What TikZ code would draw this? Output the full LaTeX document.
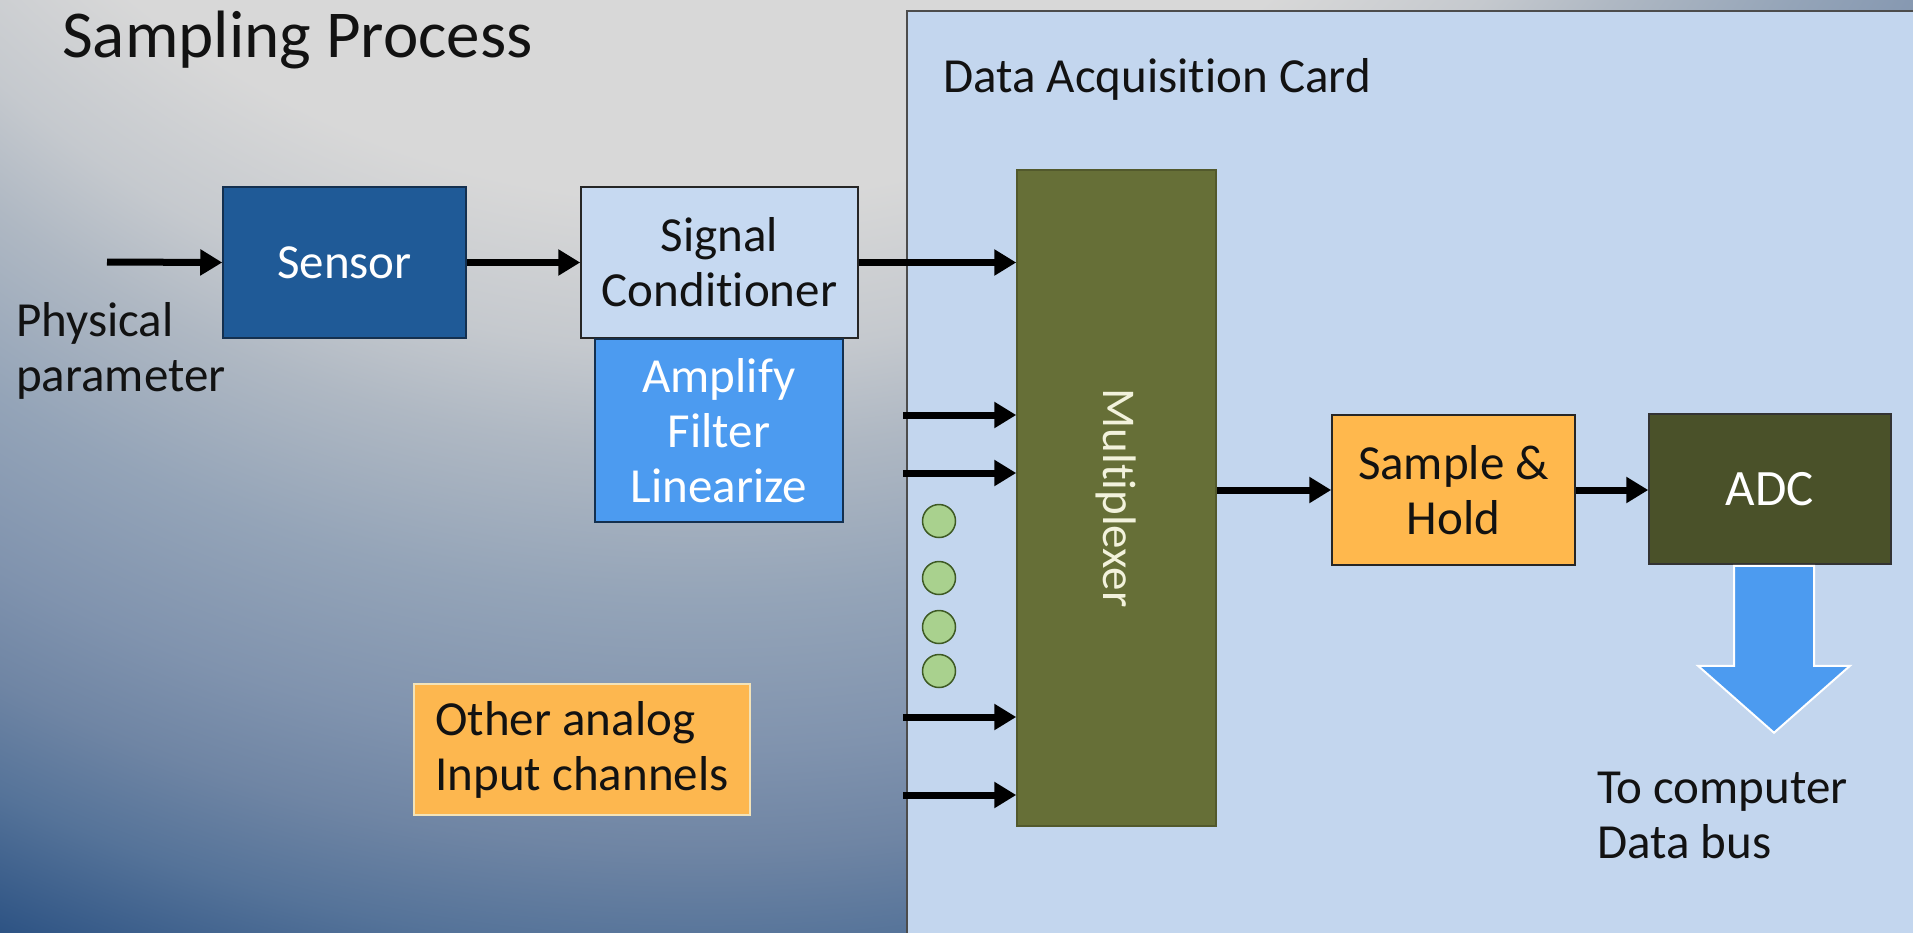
\documentclass[tikz,border=0pt]{standalone}
\usepackage{fontspec}
\setmainfont{Carlito}[Ligatures=NoCommon]
\usetikzlibrary{arrows.meta,calc}
\definecolor{bgA}{HTML}{DADADA}
\definecolor{bgB}{HTML}{D8D8D8}
\definecolor{bgC}{HTML}{C5C9CE}
\definecolor{bgD}{HTML}{AFB8C3}
\definecolor{bgE}{HTML}{94A4B8}
\definecolor{bgF}{HTML}{8093AE}
\definecolor{bgG}{HTML}{6F85A4}
\definecolor{bgH}{HTML}{557399}
\definecolor{bgI}{HTML}{2C5283}
\definecolor{bgJ}{HTML}{28497A}
\definecolor{sensorblue}{HTML}{1F5A97}
\definecolor{navy}{HTML}{14304F}
\definecolor{condblue}{HTML}{C6D9F1}
\definecolor{ampblue}{HTML}{4C9BF0}
\definecolor{daqblue}{HTML}{C3D6EE}
\definecolor{muxolive}{HTML}{666F37}
\definecolor{muxtext}{HTML}{F2F2DC}
\definecolor{shorange}{HTML}{FFB84D}
\definecolor{adcolive}{HTML}{4A5129}
\definecolor{othorange}{HTML}{FDB74F}
\definecolor{othborder}{HTML}{F3E3B8}
\definecolor{dotgreen}{HTML}{A9D18E}
\definecolor{dotborder}{HTML}{3E5A24}
\definecolor{textblack}{HTML}{121212}
% 25bp corresponds to the circle radius (2000pt), so 1bp = 80pt
\pgfdeclareradialshading{bgshade}{\pgfpoint{0bp}{0bp}}{color(0bp)=(bgA); color(11.25bp)=(bgB); color(13.125bp)=(bgC); color(14.375bp)=(bgD); color(16.25bp)=(bgE); color(18.125bp)=(bgF); color(19.375bp)=(bgG); color(20.625bp)=(bgH); color(22.25bp)=(bgI); color(25bp)=(bgJ); color(50bp)=(bgJ)}
\newcommand\bodyfont{\fontsize{49}{55}\selectfont}
\newcommand\titlefont{\fontsize{67}{72}\selectfont}
\tikzset{
  blk/.style={rectangle, line width=1.5pt, inner sep=0pt, align=center, font=\bodyfont},
  arr/.style={line width=7pt, -{Triangle[length=22pt,width=25pt]}},
  dot/.style={circle, fill=dotgreen, draw=dotborder, line width=1.5pt, minimum size=33pt, inner sep=0pt},
  lbl/.style={inner sep=0pt, align=left, font=\bodyfont, text=textblack}
}
\begin{document}
\begin{tikzpicture}[x=1pt,y=-1pt]
\useasboundingbox (0,0) rectangle (1913,932);
% background
\begin{scope}
\clip (0,0) rectangle (1913,932);
\fill[bgJ] (0,0) rectangle (1913,932);
\shade[shading=bgshade] (700,-700) circle (2000);
\end{scope}
% data acquisition card
\begin{scope}
\clip (0,0) rectangle (1913,932);
\node[rectangle, fill=daqblue, draw=black!70, line width=1.5pt, minimum width=1030pt, minimum height=940pt, anchor=north west, inner sep=0pt] (daq) at (906,10) {};
\end{scope}
\node[lbl, anchor=west] (daqlbl) at (943,79) {Data Acquisition Card};
% title
\node[inner sep=0pt, anchor=base west, font=\titlefont, text=textblack] (title) at (62,57) {Sampling Process};
% left chain
\node[lbl, anchor=west] (phys) at (16,351) {Physical\\parameter};
\node[blk, fill=sensorblue, draw=navy, minimum width=243pt, minimum height=151pt, text=white] (sensor) at (344.5,262.5) {Sensor};
\node[blk, fill=condblue, draw=black!85, minimum width=277pt, minimum height=151pt, text=textblack] (cond) at (719.5,262.5) {Signal\\Conditioner};
\node[blk, fill=ampblue, draw=navy, minimum width=248pt, minimum height=183pt, text=white, anchor=north] (amp) at (719,338) {Amplify\\Filter\\Linearize};
\node[blk, fill=othorange, draw=othborder, minimum width=336pt, minimum height=131pt, text=textblack, align=left] (other) at (582,749.5) {Other analog\\Input channels};
% multiplexer chain
\node[blk, fill=muxolive, draw=muxolive!80!black, minimum width=199pt, minimum height=656pt] (mux) at (1116.5,498) {};
\node[inner sep=0pt, font=\fontsize{47}{55}\selectfont, text=muxtext, rotate=-90] (muxlbl) at (mux.center) {Multiplexer};
\node[blk, fill=shorange, draw=black!85, minimum width=243pt, minimum height=150pt, text=textblack] (sh) at (1453.5,490) {Sample \&\\Hold};
\node[blk, fill=adcolive, draw=black!80, minimum width=242pt, minimum height=150pt, text=white, font=\fontsize{51}{55}\selectfont] (adc) at (1770,489) {ADC};
% dots
\node[dot] (d1) at (939,521) {};
\node[dot] (d2) at (939,578) {};
\node[dot] (d3) at (939,627) {};
\node[dot] (d4) at (939,671) {};
% input coordinates
\coordinate (pin) at (107,262);
\coordinate (in1) at (903,415);
\coordinate (in2) at (903,473);
\coordinate (in3) at (903,717);
\coordinate (in4) at (903,795);
% connectors
\draw[arr] (pin) -- (sensor.west);
\draw[arr] (sensor.east) -- (cond.west);
\draw[arr] (cond.east) -- (cond.east -| mux.west);
\draw[arr] (in1) -- (in1 -| mux.west);
\draw[arr] (in2) -- (in2 -| mux.west);
\draw[arr] (in3) -- (in3 -| mux.west);
\draw[arr] (in4) -- (in4 -| mux.west);
\draw[arr] (mux.east |- sh.west) -- (sh.west);
\draw[arr] (sh.east) -- (sh.east -| adc.west);
% big output arrow
\begin{scope}[shift={($(adc.south)+(4,0)$)}]
\draw[fill=ampblue, draw=white, line width=2pt, line join=miter]
  (-40,1) -- (40,1) -- (40,101) -- (76,101) -- (0,168) -- (-76,101) -- (-40,101) -- cycle;
\end{scope}
\node[lbl, anchor=west] (tocomp) at (1597,815) {To computer\\Data bus};
\end{tikzpicture}
\end{document}
